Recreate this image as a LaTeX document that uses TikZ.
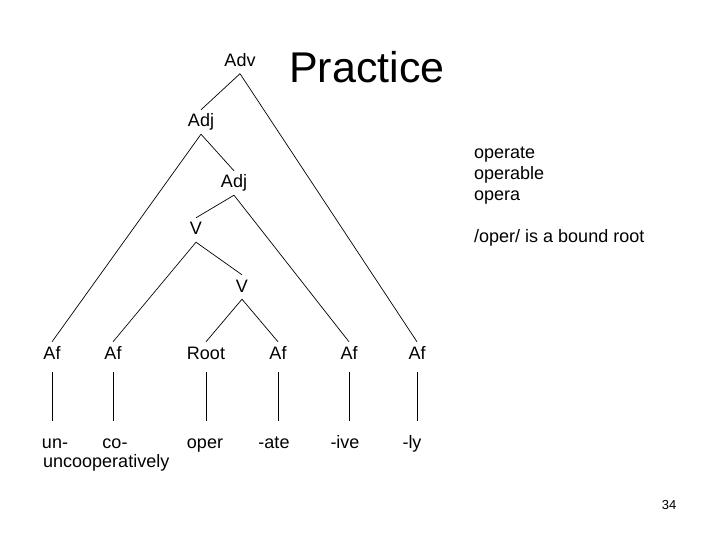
\documentclass[tikz,border=0pt]{standalone}
\usepackage{fontspec}
\setmainfont{Liberation Sans}
\begin{document}
\begin{tikzpicture}[x=1pt,y=-1pt,
  lab/.style={font=\fontsize{18}{21.6}\selectfont, inner xsep=2pt, inner ysep=3pt, text height=14pt, text depth=4pt, anchor=base},
  txt/.style={font=\fontsize{18}{21.6}\selectfont, inner sep=0pt, anchor=base west},
  br/.style={line width=0.7pt},
  vl/.style={line width=0.7pt, shorten <=6pt, shorten >=10pt}]
\useasboundingbox (0,0) rectangle (720,540);
% title
\node[inner sep=0pt, anchor=base west, font=\fontsize{43}{50}\selectfont] (title) at (289,83) {Practice};
% tree labels
\node[lab] (adv) at (240,66.5) {Adv};
\node[lab] (adj1) at (201,127) {Adj};
\node[lab] (adj2) at (234,188) {Adj};
\node[lab] (v1) at (196,235) {V};
\node[lab] (v2) at (242,292) {V};
\node[lab] (a1) at (52,359) {Af};
\node[lab] (a2) at (113,359) {Af};
\node[lab] (root) at (206,359) {Root};
\node[lab] (a3) at (278,359) {Af};
\node[lab] (a4) at (349,359) {Af};
\node[lab] (a5) at (417,359) {Af};
% words
\node[lab] (w1) at (55,448) {un-};
\node[lab] (w2) at (115,448) {co-};
\node[lab] (w3) at (205,448) {oper};
\node[lab] (w4) at (274,448) {-ate};
\node[lab] (w5) at (345,448) {-ive};
\node[lab] (w6) at (412,448) {-ly};
\node[txt] (whole) at (43,467) {uncooperatively};
% branches
\draw[br] (adv.south) -- (adj1.north);
\draw[br] (adv.south) -- (a5.north);
\draw[br] (adj1.south) -- (a1.north);
\draw[br] (adj1.south) -- (adj2.north);
\draw[br] (adj2.south) -- (v1.north);
\draw[br] (adj2.south) -- (a4.north);
\draw[br] (v1.south) -- (a2.north);
\draw[br] (v1.south) -- (v2.north);
\draw[br] (v2.south) -- (root.north);
\draw[br] (v2.south) -- (a3.north);
% verticals
\draw[vl] (a1.south) -- (a1.south |- w1.north);
\draw[vl] (a2.south) -- (a2.south |- w2.north);
\draw[vl] (root.south) -- (root.south |- w3.north);
\draw[vl] (a3.south) -- (a3.south |- w4.north);
\draw[vl] (a4.south) -- (a4.south |- w5.north);
\draw[vl] (a5.south) -- (a5.south |- w6.north);
% right notes
\node[txt] (n1) at (474,159) {operate};
\node[txt] (n2) at (474,180) {operable};
\node[txt] (n3) at (474,201) {opera};
\node[txt] (n4) at (474,242) {/oper/ is a bound root};
% page number
\node[inner sep=0pt, anchor=base, font=\fontsize{13}{15}\selectfont] (pg) at (669,509) {34};
\end{tikzpicture}
\end{document}
